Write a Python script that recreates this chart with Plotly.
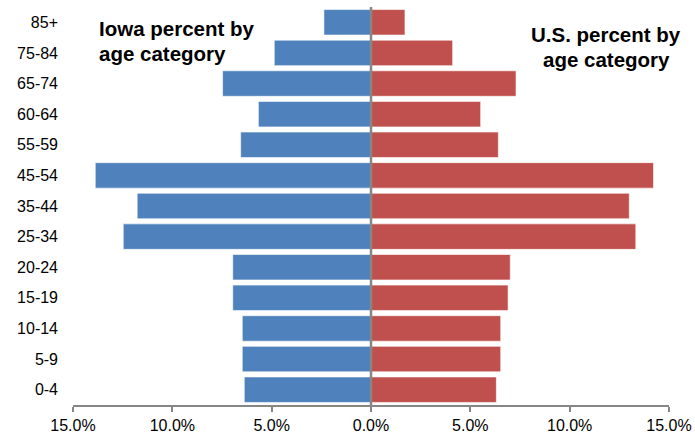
import plotly.graph_objects as go

categories = ["0-4", "5-9", "10-14", "15-19", "20-24", "25-34", "35-44",
              "45-54", "55-59", "60-64", "65-74", "75-84", "85+"]
iowa_pct = [6.38, 6.48, 6.48, 6.96, 6.96, 12.47, 11.77, 13.88, 6.56, 5.67, 7.47, 4.87, 2.37]
us_pct = [6.31, 6.53, 6.53, 6.90, 7.01, 13.33, 13.00, 14.22, 6.41, 5.52, 7.30, 4.11, 1.71]
tick_vals = [-15, -10, -5, 0, 5, 10, 15]
tick_text = ["15.0%", "10.0%", "5.0%", "0.0%", "5.0%", "10.0%", "15.0%"]

fig = go.Figure()
fig.add_trace(go.Bar(
    y=categories, x=[-v for v in iowa_pct], orientation="h",
    marker=dict(color="#4F81BD", line=dict(color="rgba(255,255,255,0.6)", width=1)),
    name="Iowa", showlegend=False))
fig.add_trace(go.Bar(
    y=categories, x=us_pct, orientation="h",
    marker=dict(color="#C0504D", line=dict(color="rgba(255,255,255,0.6)", width=1)),
    name="U.S.", showlegend=False))

fig.update_layout(
    width=695, height=434,
    margin=dict(l=73, r=26, t=7, b=29),
    barmode="relative", bargap=0.167,
    plot_bgcolor="white", paper_bgcolor="white",
    font=dict(family="Liberation Sans, Arial, sans-serif", size=16, color="#000000"),
    xaxis=dict(range=[-15, 15], tickvals=tick_vals, ticktext=tick_text,
               showgrid=False, showline=True, linecolor="#868686", linewidth=2,
               ticks="outside", ticklen=5, tickwidth=2, tickcolor="#868686",
               zeroline=False, automargin=False,
               tickfont=dict(size=16), fixedrange=True),
    yaxis=dict(showgrid=False, showline=False, ticks="", ticklabelstandoff=14,
               automargin=False, tickfont=dict(size=16), fixedrange=True),
)

fig.add_shape(type="line", xref="x", yref="paper", x0=0, x1=0, y0=0, y1=1,
              line=dict(color="#868686", width=2.5), layer="above")

title_font = dict(size=20.5, color="#000000", family="Liberation Sans, Arial, sans-serif")
for txt, yy in [("<b>Iowa percent by</b>", 0.946), ("<b>age category</b>", 0.8832)]:
    fig.add_annotation(xref="paper", yref="paper", x=0.0408, y=yy,
                       xanchor="left", yanchor="middle", text=txt,
                       showarrow=False, font=title_font)
for txt, yy in [("<b>U.S. percent by</b>", 0.9309), ("<b>age category</b>", 0.8681)]:
    fig.add_annotation(xref="paper", yref="paper", x=0.8943, y=yy,
                       xanchor="center", yanchor="middle", text=txt,
                       showarrow=False, font=title_font)

fig.write_html("out.html", config={"displayModeBar": False},
               post_script="document.body.style.margin='0';")
